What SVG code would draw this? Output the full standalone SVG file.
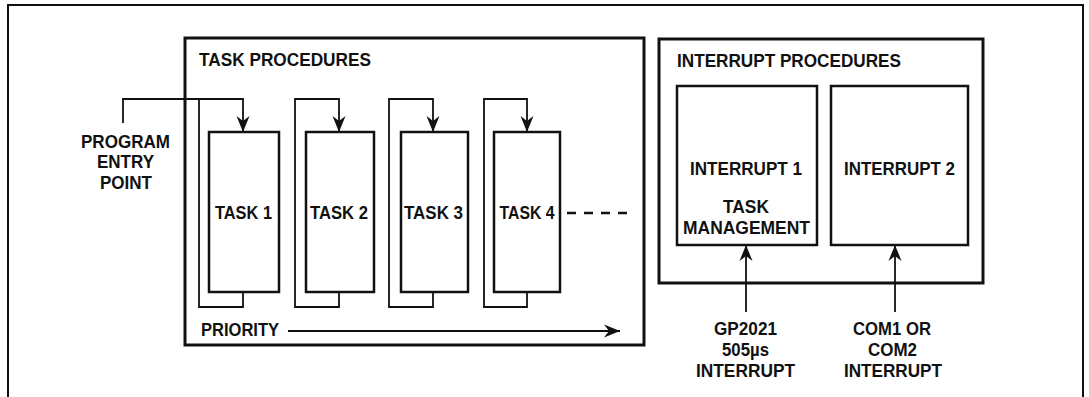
<svg xmlns="http://www.w3.org/2000/svg" width="1089" height="397" viewBox="0 0 1089 397">
  <style>
    .lbl { font-family: "Liberation Sans", Arial, sans-serif; font-weight: bold; font-size: 18.5px; fill: #111; }
    .mid { text-anchor: middle; }
    .frame { fill: none; stroke: #111; stroke-width: 3; }
    .box { fill: #fff; stroke: #111; stroke-width: 2.5; }
    .wire { fill: none; stroke: #111; stroke-width: 1.8; }
    .arr { marker-end: url(#head); }
  </style>
  <defs>
    <marker id="head" markerUnits="userSpaceOnUse" markerWidth="20" markerHeight="16" viewBox="-17 -8 18 16" refX="0" refY="0" orient="auto">
      <path d="M0,0 L-16,-6.5 L-11,0 L-16,6.5 Z" fill="#111"/>
    </marker>
  </defs>
  <rect width="1089" height="397" fill="#fff"/>

  <!-- outer frame, open at the bottom -->
  <path d="M8,400 V5 H1083 V400" fill="none" stroke="#111" stroke-width="2"/>

  <!-- task procedures container -->
  <g id="task-procedures">
    <rect class="frame" x="185" y="38" width="459" height="307"/>
    <text class="lbl" x="199" y="66" textLength="172" lengthAdjust="spacingAndGlyphs">TASK PROCEDURES</text>
  </g>

  <!-- interrupt procedures container -->
  <g id="interrupt-procedures">
    <rect class="frame" x="659" y="39" width="324" height="244"/>
    <text class="lbl" x="677" y="67" textLength="224" lengthAdjust="spacingAndGlyphs">INTERRUPT PROCEDURES</text>
  </g>

  <!-- connectors -->
  <g id="connectors">
    <!-- program entry -->
    <path class="wire" d="M123,123 V99 H199"/>
    <!-- task loops -->
    <path class="wire arr" d="M243,292 V307 H199 V99 H243 V132"/>
    <path class="wire arr" d="M339,292 V307 H295 V99 H339 V132"/>
    <path class="wire arr" d="M433,292 V307 H389 V99 H433 V132"/>
    <path class="wire arr" d="M527,292 V307 H484 V99 H527 V132"/>
    <!-- continuation dashes -->
    <path d="M567,213 H627" fill="none" stroke="#111" stroke-width="2.5" stroke-dasharray="9 8"/>
    <!-- priority arrow -->
    <path class="wire arr" d="M288,331 H620"/>
    <!-- interrupt inputs -->
    <path class="wire arr" d="M746,312 V245"/>
    <path class="wire arr" d="M895,312 V245"/>
  </g>

  <g id="entry-label">
    <text class="lbl mid" x="125.5" y="148" textLength="89" lengthAdjust="spacingAndGlyphs">PROGRAM</text>
    <text class="lbl mid" x="125.5" y="168" textLength="57" lengthAdjust="spacingAndGlyphs">ENTRY</text>
    <text class="lbl mid" x="126" y="189" textLength="52" lengthAdjust="spacingAndGlyphs">POINT</text>
  </g>

  <g id="task1">
    <rect class="box" x="209" y="132" width="70" height="160"/>
    <text class="lbl mid" x="243.5" y="219" textLength="57" lengthAdjust="spacingAndGlyphs">TASK 1</text>
  </g>
  <g id="task2">
    <rect class="box" x="306" y="132" width="68" height="160"/>
    <text class="lbl mid" x="339" y="219" textLength="58" lengthAdjust="spacingAndGlyphs">TASK 2</text>
  </g>
  <g id="task3">
    <rect class="box" x="401" y="132" width="67" height="160"/>
    <text class="lbl mid" x="433.5" y="219" textLength="59" lengthAdjust="spacingAndGlyphs">TASK 3</text>
  </g>
  <g id="task4">
    <rect class="box" x="494" y="132" width="66" height="160"/>
    <text class="lbl mid" x="527" y="219" textLength="55" lengthAdjust="spacingAndGlyphs">TASK 4</text>
  </g>

  <g id="priority">
    <text class="lbl" x="201" y="336" textLength="78" lengthAdjust="spacingAndGlyphs">PRIORITY</text>
  </g>

  <g id="interrupt1">
    <rect class="box" x="677" y="86" width="140" height="159"/>
    <text class="lbl mid" x="746" y="175" textLength="112" lengthAdjust="spacingAndGlyphs">INTERRUPT 1</text>
    <text class="lbl mid" x="746" y="213" textLength="46" lengthAdjust="spacingAndGlyphs">TASK</text>
    <text class="lbl mid" x="746.5" y="234" textLength="127" lengthAdjust="spacingAndGlyphs">MANAGEMENT</text>
  </g>
  <g id="interrupt2">
    <rect class="box" x="831" y="86" width="137" height="159"/>
    <text class="lbl mid" x="899.5" y="175" textLength="111" lengthAdjust="spacingAndGlyphs">INTERRUPT 2</text>
  </g>

  <g id="source-gp2021">
    <text class="lbl mid" x="745.5" y="335" textLength="63" lengthAdjust="spacingAndGlyphs">GP2021</text>
    <text class="lbl mid" x="745.5" y="356" textLength="47" lengthAdjust="spacingAndGlyphs">505µs</text>
    <text class="lbl mid" x="745.5" y="377" textLength="99" lengthAdjust="spacingAndGlyphs">INTERRUPT</text>
  </g>
  <g id="source-com">
    <text class="lbl mid" x="892" y="335" textLength="78" lengthAdjust="spacingAndGlyphs">COM1 OR</text>
    <text class="lbl mid" x="892.5" y="356" textLength="49" lengthAdjust="spacingAndGlyphs">COM2</text>
    <text class="lbl mid" x="893" y="377" textLength="98" lengthAdjust="spacingAndGlyphs">INTERRUPT</text>
  </g>
</svg>
